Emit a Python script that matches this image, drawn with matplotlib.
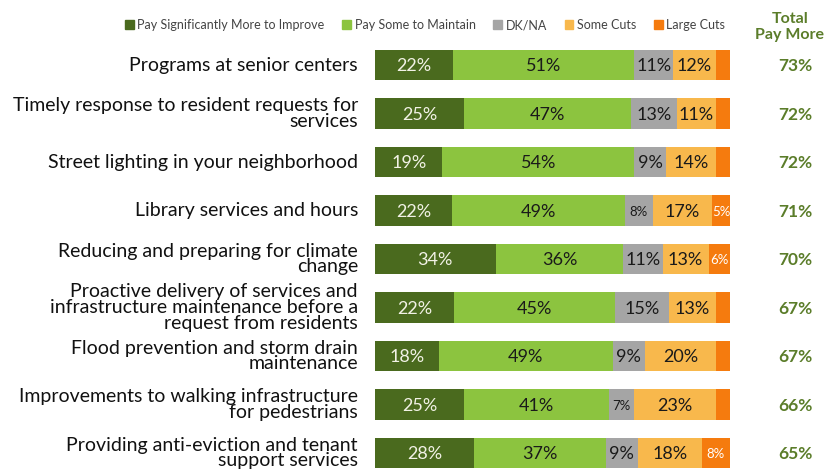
import numpy as np
import matplotlib.pyplot as plt
from matplotlib.patches import Patch

plt.rcParams['font.family'] = ['Lato', 'DejaVu Sans']

# Data
categories = [
    "Programs at senior centers",
    "Timely response to resident requests for\nservices",
    "Street lighting in your neighborhood",
    "Library services and hours",
    "Reducing and preparing for climate\nchange",
    "Proactive delivery of services and\ninfrastructure maintenance before a\nrequest from residents",
    "Flood prevention and storm drain\nmaintenance",
    "Improvements to walking infrastructure\nfor pedestrians",
    "Providing anti-eviction and tenant\nsupport services",
]
series_names = ["Pay Significantly More to Improve", "Pay Some to Maintain",
                "DK/NA", "Some Cuts", "Large Cuts"]
pay_sig_more = [22, 25, 19, 22, 34, 22, 18, 25, 28]
pay_some = [51, 47, 54, 49, 36, 45, 49, 41, 37]
dk_na = [11, 13, 9, 8, 11, 15, 9, 7, 9]
some_cuts = [12, 11, 14, 17, 13, 13, 20, 23, 18]
large_cuts = [4, 4, 4, 5, 6, 4, 4, 4, 8]
total_pay_more = ["73%", "72%", "72%", "71%", "70%", "67%", "67%", "66%", "65%"]

colors = ["#4a6a1e", "#8cc43f", "#a5a5a5", "#f8b84c", "#f57b0e"]
text_colors = ["#f2f2e6", "#1a1a1a", "#1a1a1a", "#1a1a1a", "#ffffff"]

fig = plt.figure(figsize=(8.29, 4.69), dpi=100)
W, H = 829, 469
ax = fig.add_axes([375 / W, 0, (730 - 375) / W, 1])

y = np.arange(len(categories))
step = 48.5
ax.set_ylim((469 - 65) / step, -65 / step)
ax.set_xlim(0, 100)
ax.axis('off')

data = np.array([pay_sig_more, pay_some, dk_na, some_cuts, large_cuts], dtype=float)
# bars in the original all fill the full width, so scale each row to 100
scaled = data / data.sum(axis=0) * 100
left = np.zeros(len(categories))
for raw, vals, col, tcol in zip(data, scaled, colors, text_colors):
    ax.barh(y, vals, left=left, height=0.62, color=col)
    for i, v in enumerate(raw):
        if v >= 5:
            fs = 13 if v >= 9 else 9.5
            ax.text(left[i] + vals[i] / 2, y[i] + 0.03, f"{int(v)}%", ha='center', va='center',
                    fontsize=fs, color=tcol)
    left += vals

# category labels
for i, cat in enumerate(categories):
    ax.text(-17 / 355 * 100, y[i], cat, ha='right', va='center', fontsize=14,
            color='#111111', linespacing=0.92)

# Total Pay More column
xt = (795 - 375) / 355 * 100
for i, t in enumerate(total_pay_more):
    ax.text(xt, y[i] + 0.03, t, ha='center', va='center',
            fontsize=12.5, fontweight='bold', color='#5b7d2a')
fig.text(790 / W, 1 - 27 / H, "Total\nPay More", ha='center', va='center', fontsize=11.5,
         fontweight='bold', color='#5b7d2a', linespacing=1.15)

handles = [Patch(color=c) for c in colors]
fig.legend(handles, series_names, loc='center', bbox_to_anchor=(425 / W, 1 - 25 / H),
           ncol=5, frameon=False, fontsize=9, handlelength=0.7, handleheight=0.7,
           handletextpad=0.3, columnspacing=1.4, labelcolor='#444444')

fig.savefig("out.png", dpi=100)
